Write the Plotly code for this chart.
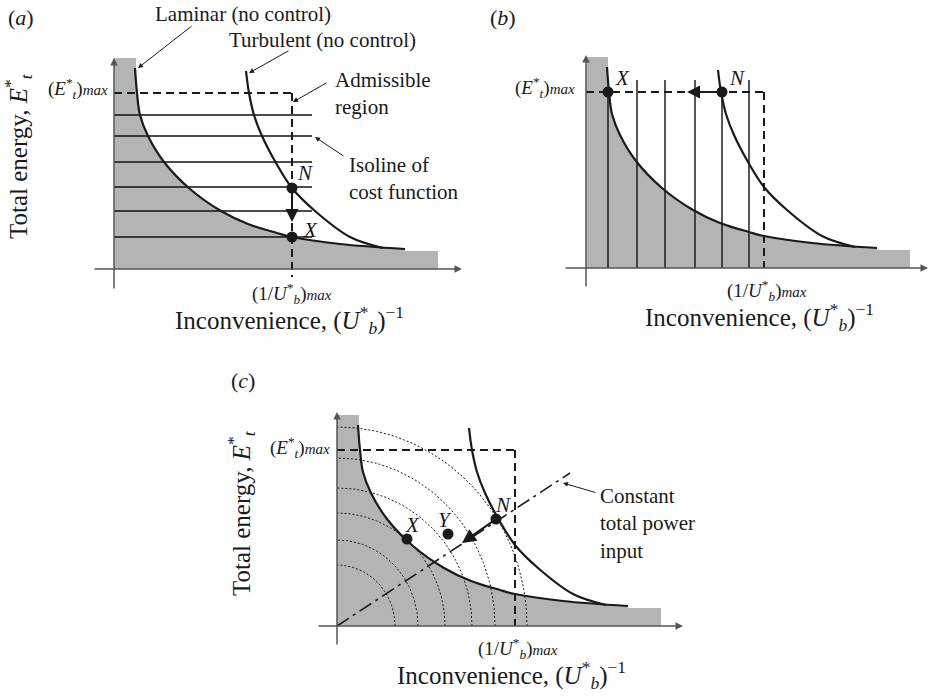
import numpy as np
import plotly.graph_objects as go

# ---- schematic data (shared by the three panels; units = schematic axis units) ----
LAM_U = [21, 23, 26, 34, 50, 76, 107, 134, 163, 178, 226, 291]
LAM_V = [201, 176, 154, 133, 107, 80, 58, 45, 36, 32, 25, 20]
TURB_U = [132, 135, 140, 148, 162, 178, 201, 236, 269]
TURB_V = [198, 176, 154, 133, 106, 81, 58, 32, 21]
E_MAX = 176
U_MAX = 178
GRAY_COL_W, GRAY_COL_H = 22, 211
GRAY_FLOOR_W, GRAY_FLOOR_H = 324, 18
ISO_A_V = [154, 133, 107, 82, 58, 32]
ISO_A_LEN = 198
ISO_B_U = [22, 51, 79, 109, 136, 163]
ISO_B_TOP = [176, 188, 188, 188, 176, 188]
ARC_RX = [58, 81, 108, 135, 158, 190]
ARC_RY = [61, 86, 113, 138, 168, 199]
POWER_END = (233, 153)
PTS_A = {"N": (178, 81), "X": (178, 32)}
PTS_B = {"X": (22, 176), "N": (136, 176)}
PTS_C = {"X": (70, 87), "Y": (111, 92), "N": (159, 107)}

W, H = 929, 696
PANELS = {
    "a": dict(px=(0, 468), py=(0, 330), origin=(114, 269), ax=("x", "y")),
    "b": dict(px=(470, 929), py=(0, 330), origin=(586, 268), ax=("x2", "y2")),
    "c": dict(px=(225, 720), py=(335, 696), origin=(337, 626), ax=("x3", "y3")),
}

GRAY = "#b3b4b6"
INK = "#1a1a1a"
AXC = "#555555"
SERIF = "Liberation Serif"

fig = go.Figure()
layout_axes = {}
annotations = []
shapes = []

for k, p in PANELS.items():
    (x0, x1), (y0, y1), (ox, oy) = p["px"], p["py"], p["origin"]
    xa, ya = p["ax"]
    xkey = "xaxis" + xa[1:]
    ykey = "yaxis" + ya[1:]
    layout_axes[xkey] = dict(domain=[x0 / W, x1 / W], range=[x0 - ox, x1 - ox],
                             visible=False, fixedrange=True, anchor=ya)
    layout_axes[ykey] = dict(domain=[1 - y1 / H, 1 - y0 / H], range=[oy - y1, oy - y0],
                             visible=False, fixedrange=True, anchor=xa)


def line(k, u, v, width=2, color=INK, dash=None, shape="linear", fill=None):
    xa, ya = PANELS[k]["ax"]
    ln = dict(width=width, color=color, shape=shape)
    if dash:
        ln["dash"] = dash
    kw = {}
    if fill:
        kw = dict(fill="tozeroy", fillcolor=GRAY)
    fig.add_trace(go.Scatter(x=u, y=v, mode="lines", line=ln, xaxis=xa, yaxis=ya,
                             hoverinfo="skip", showlegend=False, **kw))


def dots(k, pts):
    xa, ya = PANELS[k]["ax"]
    fig.add_trace(go.Scatter(x=[q[0] for q in pts.values()], y=[q[1] for q in pts.values()],
                             mode="markers", marker=dict(size=11, color=INK),
                             xaxis=xa, yaxis=ya, hoverinfo="skip", showlegend=False))


def arrow(k, head, tail, width=1.2, color=INK, style=2, size=1.0):
    xa, ya = PANELS[k]["ax"]
    annotations.append(dict(x=head[0], y=head[1], ax=tail[0], ay=tail[1], xref=xa, yref=ya,
                            axref=xa, ayref=ya, text="", showarrow=True, arrowhead=style,
                            arrowsize=size, arrowwidth=width, arrowcolor=color))


def text(k, u, v, s, size=21, xanchor="center", align="center", angle=0):
    xa, ya = PANELS[k]["ax"]
    annotations.append(dict(x=u, y=v, xref=xa, yref=ya, text=s, showarrow=False,
                            font=dict(family=SERIF, size=size, color=INK),
                            xanchor=xanchor, yanchor="middle", align=align, textangle=angle))


def gray(k):
    xa, ya = PANELS[k]["ax"]
    for (w, h) in [(GRAY_COL_W, GRAY_COL_H), (GRAY_FLOOR_W, GRAY_FLOOR_H)]:
        shapes.append(dict(type="rect", xref=xa, yref=ya, x0=0, x1=w, y0=0, y1=h,
                           fillcolor=GRAY, line=dict(width=0), layer="below"))
    line(k, LAM_U, LAM_V, width=0.1, color=GRAY, shape="spline", fill=True)


E_LBL = "(<i>E</i><sup>*</sup><sub><i>t</i></sub>)<span style='font-size:15px'><i>max</i></span>"
U_LBL = "(1/<i>U</i><sup>*</sup><sub><i>b</i></sub>)<span style='font-size:15px'><i>max</i></span>"
XT = "Inconvenience, (<i>U</i><sup>*</sup><sub><i>b</i></sub>)<sup>−1</sup>"
YT = "Total energy, <i>E</i><sup>*</sup><sub><i>t</i></sub>"
DASH = "8px,5px"

# ---------------- panel (a) ----------------
gray("a")
for v in ISO_A_V:
    line("a", [0, ISO_A_LEN], [v, v], width=1.4, color="#111111")
line("a", [0, U_MAX], [E_MAX, E_MAX], width=2, dash=DASH)
line("a", [U_MAX, U_MAX], [E_MAX, -8], width=2, dash=DASH)
line("a", LAM_U, LAM_V, width=2.2, shape="spline")
line("a", TURB_U, TURB_V, width=2.2, shape="spline")
arrow("a", (PTS_A["N"][0], 47), PTS_A["N"], width=2, style=2, size=1.3)
dots("a", PTS_A)
arrow("a", (0, 211), (0, -21), width=1.5, color=AXC, style=2, size=1.0)
arrow("a", (348, 0), (-21, 0), width=1.5, color=AXC, style=2, size=1.0)
text("a", -93, 252, "(<i>a</i>)", size=22)
text("a", 129, 255, "Laminar (no control)")
arrow("a", (24, 201), (79, 244), width=1)
text("a", 208, 229, "Turbulent (no control)")
arrow("a", (135, 196), (176, 219), width=1)
text("a", 219, 176, "Admissible<br>region", xanchor="left", align="left")
arrow("a", (179, 167), (214, 187), width=1)
text("a", 233, 91, "Isoline of<br>cost function", xanchor="left", align="left")
arrow("a", (201, 132), (231, 112), width=1)
text("a", 191, 96, "<i>N</i>")
text("a", 196, 39, "<i>X</i>")
text("a", -4, 181, E_LBL, size=19, xanchor="right")
text("a", 178, -24, U_LBL, size=19)
text("a", 175, -51, XT, size=25)
text("a", -96, 113, YT, size=25, angle=-90)

# ---------------- panel (b) ----------------
gray("b")
for u, top in zip(ISO_B_U, ISO_B_TOP):
    line("b", [u, u], [0, top], width=1.4, color="#111111")
line("b", [0, U_MAX], [E_MAX, E_MAX], width=2, dash=DASH)
line("b", [U_MAX, U_MAX], [E_MAX, 0], width=2, dash=DASH)
line("b", LAM_U, LAM_V, width=2.2, shape="spline")
line("b", TURB_U, TURB_V, width=2.2, shape="spline")
arrow("b", (101, E_MAX), PTS_B["N"], width=2, style=2, size=1.3)
dots("b", PTS_B)
arrow("b", (0, 213), (0, -20), width=1.5, color=AXC, style=2, size=1.0)
arrow("b", (342, 0), (-22, 0), width=1.5, color=AXC, style=2, size=1.0)
text("b", -83, 251, "(<i>b</i>)", size=22)
text("b", 36, 190, "<i>X</i>")
text("b", 151, 190, "<i>N</i>")
text("b", -9, 181, E_LBL, size=19, xanchor="right")
text("b", 181, -22, U_LBL, size=19)
text("b", 173, -49, XT, size=25)

# ---------------- panel (c) ----------------
gray("c")
t = np.linspace(0, np.pi / 2, 60)
for rx, ry in zip(ARC_RX, ARC_RY):
    line("c", rx * np.cos(t), ry * np.sin(t), width=1, dash="2px,2px")
line("c", [0, U_MAX], [E_MAX, E_MAX], width=2, dash=DASH)
line("c", [U_MAX, U_MAX], [E_MAX, 0], width=2, dash=DASH)
line("c", [0, POWER_END[0]], [0, POWER_END[1]], width=1.6, dash="14px,5px,3px,5px")
line("c", LAM_U, LAM_V, width=2.2, shape="spline")
line("c", TURB_U, TURB_V, width=2.2, shape="spline")
arrow("c", (125, 83), PTS_C["N"], width=2, style=2, size=1.4)
dots("c", PTS_C)
arrow("c", (0, 214), (0, -20), width=1.5, color=AXC, style=2, size=1.0)
arrow("c", (346, 0), (-20, 0), width=1.5, color=AXC, style=2, size=1.0)
text("c", -94, 246, "(<i>c</i>)", size=22)
text("c", 75, 101, "<i>X</i>")
text("c", 108, 106, "<i>Y</i>")
text("c", 166, 121, "<i>N</i>")
text("c", 261, 103, "Constant<br>total power<br>input", xanchor="left", align="left")
arrow("c", (226, 143), (260, 133), width=1)
text("c", -5, 179, E_LBL, size=19, xanchor="right")
text("c", 181, -22, U_LBL, size=19)
text("c", 174, -49, XT, size=25)
text("c", -96, 113, YT, size=25, angle=-90)

fig.update_layout(width=W, height=H, autosize=False, margin=dict(l=0, r=0, t=0, b=0),
                  paper_bgcolor="white", plot_bgcolor="rgba(0,0,0,0)",
                  annotations=annotations, shapes=shapes, showlegend=False,
                  font=dict(family=SERIF))
fig.update_layout(**layout_axes)
fig.write_html("out.html", config={"displayModeBar": False},
               post_script="document.body.style.margin='0px';document.body.style.overflow='hidden';")
